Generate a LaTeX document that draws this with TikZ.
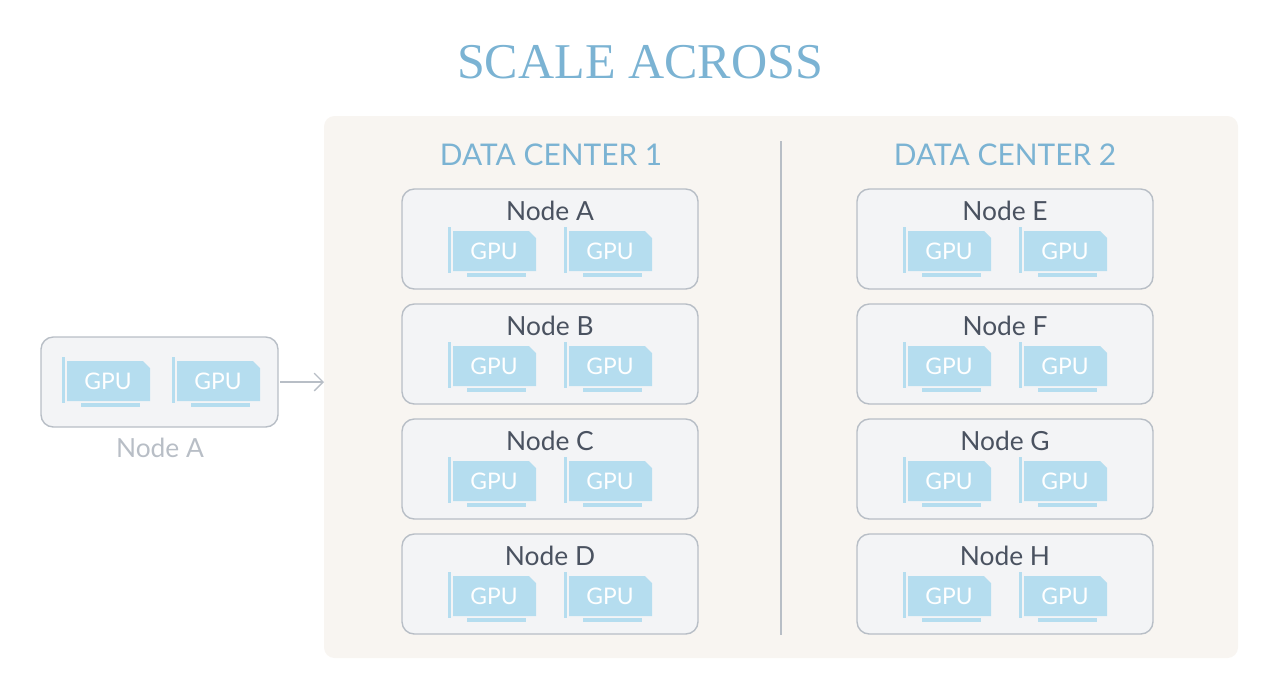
\documentclass[tikz,border=0pt]{standalone}
\usepackage{fontspec}
\usetikzlibrary{arrows.meta}
\setmainfont{Lato}
\newfontfamily\titlefont{Liberation Serif}
\definecolor{gpublue}{HTML}{B5DDEF}
\definecolor{titleblue}{HTML}{7BB3D3}
\definecolor{boxline}{HTML}{B8BEC6}
\definecolor{boxfill}{HTML}{F3F4F6}
\definecolor{panel}{HTML}{F8F5F1}
\definecolor{labelgray}{HTML}{4A5260}
\tikzset{
  nodebox/.style={draw=boxline,fill=boxfill,rounded corners=7pt,line width=0.8pt},
  nodelabel/.style={text=labelgray,font=\fontsize{15}{18}\selectfont},
  dclabel/.style={text=titleblue,font=\fontsize{17}{20}\selectfont},
  gpu/.pic={
    \fill[gpublue] (-5,-4) rectangle (-2,42);
    \fill[gpublue] (0,0) -- (76,0) -- (83,7) -- (83,40) -- (0,40) -- cycle;
    \fill[gpublue] (14,42) rectangle (73,46);
    \node[text=white,font=\fontsize{13}{15}\selectfont] at (41,20) {GPU};
  }
}
\begin{document}
\begin{tikzpicture}[x=0.02cm,y=-0.02cm]
\useasboundingbox (0,0) rectangle (1280,698);
\node[text=titleblue,font=\titlefont\fontsize{28.5}{32}\selectfont] (title) at (640,62) {SCALE ACROSS};
\fill[panel,rounded corners=6pt] (324,116) rectangle (1238,658);
\draw[boxline,line width=0.8pt] (781,141) -- (781,635);
\node[dclabel] (dc1) at (551,155) {DATA CENTER 1};
\node[dclabel] (dc2) at (1005,155) {DATA CENTER 2};

% single node on the left
\draw[nodebox] (41,337) rectangle (278,427);
\pic at (67,361) {gpu};
\pic at (177,361) {gpu};
\node[text=boxline,font=\fontsize{15}{18}\selectfont] (single) at (160,448) {Node A};
\coordinate (arrowstart) at (280,382);
\coordinate (arrowend) at (324,382);
\draw[boxline,line width=0.8pt,-{Straight Barb[length=5pt]}] (arrowstart) -- (arrowend);

% data center nodes
\foreach \lbl [count=\i from 0] in {A,B,C,D}{
  \draw[nodebox] (402,189+115*\i) rectangle (698,289+115*\i);
  \node[nodelabel] (dca\lbl) at (550,211+115*\i) {Node \lbl};
  \pic at (453,231+115*\i) {gpu};
  \pic at (569,231+115*\i) {gpu};
}
\foreach \lbl [count=\i from 0] in {E,F,G,H}{
  \draw[nodebox] (857,189+115*\i) rectangle (1153,289+115*\i);
  \node[nodelabel] (dcb\lbl) at (1005,211+115*\i) {Node \lbl};
  \pic at (908,231+115*\i) {gpu};
  \pic at (1024,231+115*\i) {gpu};
}
\end{tikzpicture}
\end{document}
